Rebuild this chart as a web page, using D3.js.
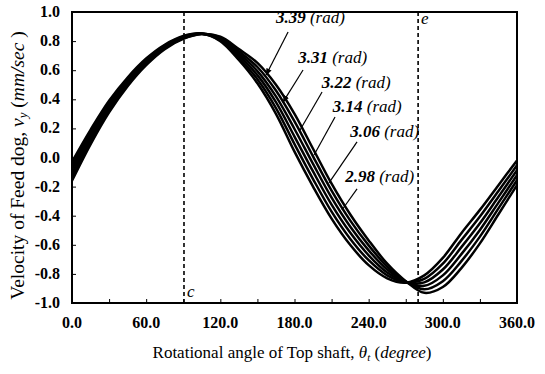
<!DOCTYPE html>
<html>
<head>
<meta charset="utf-8">
<script src="https://cdn.jsdelivr.net/npm/d3@7"></script>
<style>
  html, body { margin: 0; padding: 0; background: #fff; }
  svg { display: block; }
</style>
</head>
<body>
<svg id="chart" width="545" height="374"></svg>
<script>
// ---------- data ----------
const angles = [0,15,30,45,60,75,90,105,120,135,150,165,180,195,210,225,240,255,270,285,300,315,330,345,360];
const seriesNames = ["3.39", "3.31", "3.22", "3.14", "3.06", "2.98"];
const v339 = [-0.030,0.190,0.390,0.550,0.680,0.775,0.835,0.852,0.800,0.670,0.510,0.300,0.040,-0.200,-0.420,-0.600,-0.740,-0.830,-0.860,-0.810,-0.690,-0.520,-0.360,-0.190,-0.020];
const v331 = [-0.056,0.170,0.374,0.538,0.671,0.769,0.831,0.851,0.806,0.685,0.538,0.340,0.092,-0.148,-0.372,-0.558,-0.706,-0.810,-0.858,-0.834,-0.730,-0.568,-0.406,-0.230,-0.054];
const v322 = [-0.082,0.150,0.358,0.526,0.662,0.763,0.827,0.850,0.812,0.700,0.566,0.380,0.144,-0.096,-0.324,-0.516,-0.672,-0.790,-0.856,-0.858,-0.770,-0.616,-0.452,-0.270,-0.088];
const v314 = [-0.108,0.130,0.342,0.514,0.653,0.757,0.823,0.850,0.818,0.715,0.594,0.420,0.196,-0.044,-0.276,-0.474,-0.638,-0.770,-0.854,-0.882,-0.810,-0.664,-0.498,-0.310,-0.122];
const v306 = [-0.134,0.110,0.326,0.502,0.644,0.751,0.819,0.849,0.824,0.730,0.622,0.460,0.248,0.008,-0.228,-0.432,-0.604,-0.750,-0.852,-0.906,-0.850,-0.712,-0.544,-0.350,-0.156];
const v298 = [-0.160,0.090,0.310,0.490,0.635,0.745,0.815,0.848,0.830,0.745,0.650,0.500,0.300,0.060,-0.180,-0.390,-0.570,-0.730,-0.850,-0.930,-0.890,-0.760,-0.590,-0.390,-0.190];
const seriesValues = [v339, v331, v322, v314, v306, v298];

const xTicks = [0, 60, 120, 180, 240, 300, 360];
const xMinorTicks = [30, 90, 150, 210, 270, 330];
const yTicks = [-1.0,-0.8,-0.6,-0.4,-0.2,0.0,0.2,0.4,0.6,0.8,1.0];

// reference lines (degrees) and their letters
const refAngles = [90.6, 280];
const refLetters = ["c", "e"];

// annotation leaders
const annLabels = ["3.39", "3.31", "3.22", "3.14", "3.06", "2.98"];
const annTextAt = [[165, 0.925], [183, 0.65], [202, 0.48], [211, 0.31], [225, 0.14], [221, -0.17]];
const annFrom = [[174.8, 0.863], [186.9, 0.601], [202.3, 0.450], [212.8, 0.278], [230.6, 0.107], [230.6, -0.216]];
const annTo = [[157.0, 0.567], [170.7, 0.381], [184.5, 0.189], [195.8, 0.017], [207.9, -0.175], [218.4, -0.361]];
const annArrow = [true, true, false, false, false, false];

// ---------- layout ----------
const FONT = "'Liberation Serif', 'Times New Roman', Times, 'DejaVu Serif', serif";
const svg = d3.select("#chart").style("font-family", FONT);
const M = { left: 72, top: 12, right: 28, bottom: 71 };
const W = 545 - M.left - M.right;
const H = 374 - M.top - M.bottom;

const x = d3.scaleLinear().domain([0, 360]).range([M.left, M.left + W]);
const y = d3.scaleLinear().domain([-1, 1]).range([M.top + H, M.top]);

svg.append("defs").append("marker")
  .attr("id", "arr").attr("viewBox", "0 0 10 10").attr("refX", 9).attr("refY", 5)
  .attr("markerWidth", 6).attr("markerHeight", 6).attr("orient", "auto")
  .append("path").attr("d", "M0,1 L10,5 L0,9 Z").attr("fill", "#000");

// axes (inward ticks)
const gx = svg.append("g").attr("transform", `translate(0,${M.top + H})`)
  .call(d3.axisBottom(x).tickValues(xTicks.concat(xMinorTicks)).tickSize(-4).tickFormat(""));
gx.select(".domain").remove();
gx.selectAll("line").attr("stroke", "#000").attr("stroke-width", 1);

const gy = svg.append("g").attr("transform", `translate(${M.left},0)`)
  .call(d3.axisLeft(y).tickValues(yTicks).tickSize(-4).tickFormat(""));
gy.select(".domain").remove();
gy.selectAll("line").attr("stroke", "#000").attr("stroke-width", 1);

function txt(sel) { return sel.style("font-family", FONT).attr("fill", "#000"); }

// tick labels
txt(svg.append("g").selectAll("text").data(xTicks).join("text"))
  .attr("x", d => x(d)).attr("y", M.top + H + 25)
  .attr("text-anchor", "middle").attr("font-size", 16).attr("font-weight", "bold")
  .text(d => d.toFixed(1));
txt(svg.append("g").selectAll("text").data(yTicks).join("text"))
  .attr("x", M.left - 12).attr("y", d => y(d) + 5)
  .attr("text-anchor", "end").attr("font-size", 16).attr("font-weight", "bold")
  .text(d => d.toFixed(1));

// reference dashed lines
svg.append("g").selectAll("line").data(refAngles).join("line")
  .attr("x1", d => x(d)).attr("x2", d => x(d))
  .attr("y1", M.top).attr("y2", M.top + H)
  .attr("stroke", "#000").attr("stroke-width", 1.6).attr("stroke-dasharray", "4,3");
txt(svg.append("text")).attr("x", x(refAngles[0]) + 3).attr("y", M.top + H - 6)
  .attr("font-size", 17).attr("font-style", "italic").text(refLetters[0]);
txt(svg.append("text")).attr("x", x(refAngles[1]) + 3).attr("y", M.top + 12)
  .attr("font-size", 17).attr("font-style", "italic").text(refLetters[1]);

// curves
const line = d3.line().x((d, i) => x(angles[i])).y(d => y(d)).curve(d3.curveCatmullRom.alpha(0.5));
svg.append("g").selectAll("path").data(seriesValues).join("path")
  .attr("d", d => line(d)).attr("fill", "none")
  .attr("stroke", "#000").attr("stroke-width", 2.5);

// annotations
const ga = svg.append("g");
annLabels.forEach((lab, i) => {
  ga.append("line")
    .attr("x1", x(annFrom[i][0])).attr("y1", y(annFrom[i][1]))
    .attr("x2", x(annTo[i][0])).attr("y2", y(annTo[i][1]))
    .attr("stroke", "#000").attr("stroke-width", 1.2)
    .attr("marker-end", annArrow[i] ? "url(#arr)" : null);
  const t = txt(ga.append("text"))
    .attr("x", x(annTextAt[i][0])).attr("y", y(annTextAt[i][1]))
    .attr("font-size", 17).attr("font-style", "italic");
  t.append("tspan").attr("font-weight", "bold").text(lab);
  t.append("tspan").text(" (rad)");
});

// frame
svg.append("rect").attr("x", M.left).attr("y", M.top).attr("width", W).attr("height", H)
  .attr("fill", "none").attr("stroke", "#000").attr("stroke-width", 2);

// axis titles
const xt = txt(svg.append("text")).attr("x", 292).attr("y", 358)
  .attr("text-anchor", "middle").attr("font-size", 17);
xt.append("tspan").text("Rotational angle of  Top shaft, ");
xt.append("tspan").attr("font-style", "italic").text("θ");
xt.append("tspan").attr("font-style", "italic").attr("font-size", 11).attr("dy", 3).text("t");
xt.append("tspan").attr("dy", -3).text(" (");
xt.append("tspan").attr("font-style", "italic").text("degree");
xt.append("tspan").text(")");

const yt = txt(svg.append("text"))
  .attr("transform", `translate(24,${M.top + H / 2 + 8}) rotate(-90)`)
  .attr("text-anchor", "middle").attr("font-size", 19.5);
yt.append("tspan").text("Velocity of Feed dog,  ");
yt.append("tspan").attr("font-style", "italic").text("v");
yt.append("tspan").attr("font-style", "italic").attr("font-size", 13).attr("dy", 3).text("y");
yt.append("tspan").attr("dy", -3).text("  (");
yt.append("tspan").attr("font-style", "italic").text("mm/sec");
yt.append("tspan").text(" )");
</script>
</body>
</html>
